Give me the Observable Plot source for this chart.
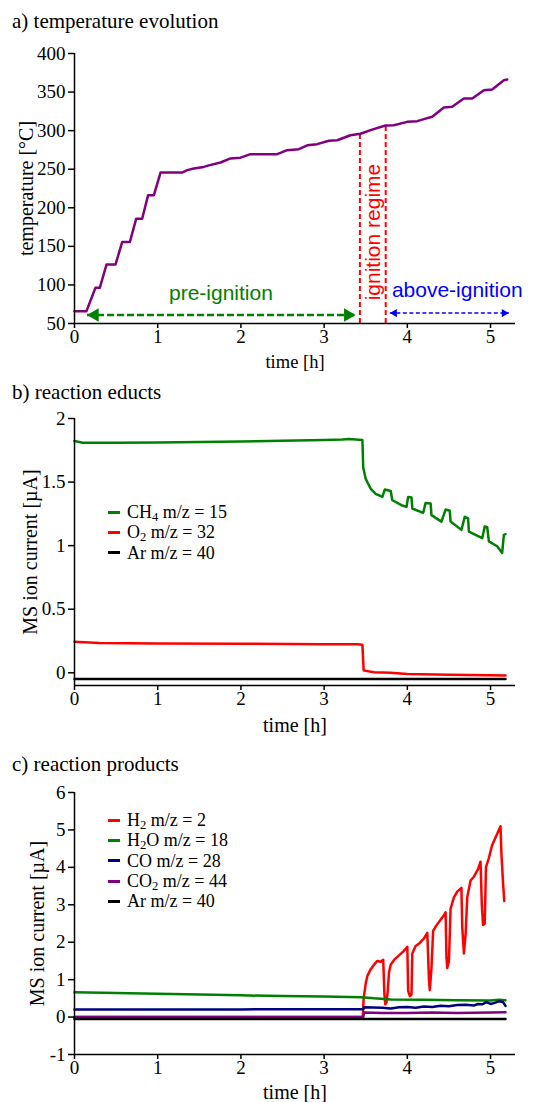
<!DOCTYPE html>
<html><head><meta charset="utf-8">
<script src="https://cdn.jsdelivr.net/npm/d3@7"></script>
<script src="https://cdn.jsdelivr.net/npm/@observablehq/plot@0.6"></script>
<style>
body{margin:0;background:#fff;}
#wrap{position:relative;width:534px;height:1102px;overflow:hidden;font-family:'Liberation Serif','Times New Roman',serif;color:#000;background:#fff;}
.title{position:absolute;left:12px;font-size:21px;line-height:21px;white-space:nowrap;}
.panel{position:absolute;left:0;}
.legend{position:absolute;left:108px;font-size:18px;}
.legend .row{display:flex;align-items:center;white-space:nowrap;height:20.3px;line-height:20.3px;}
.legend .sw{display:inline-block;width:12px;height:3px;margin-right:7px;}
sub{font-size:70%;vertical-align:-0.2em;line-height:0;}
</style></head><body><div id="wrap"></div>
<script>
// ---------- data ----------
const timeTicks = [0, 1, 2, 3, 4, 5];
const tempTicks = [50, 100, 150, 200, 250, 300, 350, 400];
const eductTicks = [0, 0.5, 1, 1.5, 2];
const productTicks = [-1, 0, 1, 2, 3, 4, 5, 6];

const panelTitles = ["a) temperature evolution", "b) reaction educts", "c) reaction products"];

const tempTime = [0, 0.144, 0.252, 0.304, 0.385, 0.493, 0.573, 0.665, 0.741, 0.813, 0.885, 0.954, 1.034, 1.294, 1.354, 1.434, 1.554, 1.615, 1.755, 1.875, 1.995, 2.115, 2.436, 2.556, 2.696, 2.797, 2.917, 3.057, 3.157, 3.317, 3.437, 3.558, 3.738, 3.838, 3.998, 4.119, 4.199, 4.299, 4.439, 4.539, 4.679, 4.78, 4.92, 5.02, 5.16, 5.2];
const tempValue = [66, 66, 96.3, 96.3, 126.5, 126.5, 155.5, 155.5, 185.7, 185.7, 216.4, 216.4, 245.7, 245.7, 248.8, 251, 253, 255, 258.7, 264, 265, 269.5, 269.5, 274.7, 276, 281, 282.5, 286.8, 287.6, 294, 296, 300.6, 306.7, 307, 311.4, 312.3, 314.9, 318, 330, 330.9, 341.7, 341.7, 352.5, 353.3, 365.4, 366.3];

const regimeBounds = [3.43, 3.74];
const regimeTop = [296, 306];
const regimeLabels = ["pre-ignition", "ignition regime", "above-ignition"];
const regimeLabelTime = [1.76, 3.585, 4.6];
const regimeLabelTemp = [89, 80, 93];
const preArrow = [0.15, 3.38];
const preArrowTemp = 61;
const aboveArrow = [3.79, 5.22];
const aboveArrowTemp = 63.5;

const ch4Time = [0, 0.1, 0.5, 1.0, 1.5, 2.0, 2.5, 3.0, 3.22, 3.3, 3.46, 3.47, 3.50, 3.56, 3.62, 3.70, 3.73, 3.80, 3.82, 3.93, 3.99, 4.01, 4.05, 4.06, 4.19, 4.22, 4.28, 4.29, 4.41, 4.46, 4.51, 4.52, 4.65, 4.69, 4.73, 4.74, 4.90, 4.93, 4.96, 4.98, 5.08, 5.14, 5.16, 5.18];
const ch4Value = [1.823, 1.81, 1.81, 1.812, 1.815, 1.82, 1.825, 1.83, 1.835, 1.838, 1.83, 1.615, 1.525, 1.447, 1.408, 1.383, 1.442, 1.43, 1.357, 1.318, 1.305, 1.383, 1.378, 1.292, 1.258, 1.336, 1.331, 1.24, 1.189, 1.284, 1.274, 1.189, 1.124, 1.227, 1.214, 1.111, 1.059, 1.15, 1.145, 1.033, 0.995, 0.943, 1.085, 1.09];
const o2Time = [0, 0.3, 1, 2, 3, 3.4, 3.46, 3.475, 3.5, 3.6, 3.8, 4.0, 4.5, 5.0, 5.18];
const o2Value = [0.245, 0.235, 0.23, 0.228, 0.225, 0.225, 0.22, 0.02, 0.015, 0.005, 0.0, -0.01, -0.015, -0.02, -0.022];
const arTime = [0, 5.18];
const arEductValue = [-0.048, -0.048];

const h2Time = [0, 3.465, 3.475, 3.5, 3.52, 3.56, 3.6, 3.64, 3.68, 3.71, 3.725, 3.735, 3.75, 3.765, 3.78, 3.8, 3.85, 3.9, 3.95, 3.99, 4.0, 4.01, 4.03, 4.05, 4.06, 4.1, 4.15, 4.2, 4.24, 4.26, 4.27, 4.29, 4.31, 4.35, 4.4, 4.44, 4.46, 4.47, 4.48, 4.5, 4.52, 4.56, 4.6, 4.65, 4.66, 4.68, 4.7, 4.72, 4.76, 4.8, 4.85, 4.88, 4.895, 4.91, 4.93, 4.945, 4.98, 5.02, 5.06, 5.1, 5.12, 5.13, 5.15, 5.165];
const h2Value = [0, 0, 0.5, 0.9, 1.1, 1.28, 1.4, 1.5, 1.48, 1.53, 0.6, 0.34, 0.4, 0.7, 1.2, 1.4, 1.55, 1.65, 1.75, 1.85, 1.88, 0.7, 0.56, 0.6, 1.7, 1.9, 1.98, 2.1, 2.25, 1.0, 0.72, 1.3, 2.3, 2.45, 2.6, 2.72, 2.8, 1.6, 1.31, 1.5, 2.9, 3.2, 3.35, 3.45, 2.4, 1.7, 2.2, 3.2, 3.65, 3.75, 3.95, 4.15, 3.0, 2.46, 2.5, 4.0, 4.25, 4.6, 4.8, 5.0, 5.1, 4.4, 3.6, 3.1];
const h2oTime = [0, 0.5, 1, 1.5, 2, 2.5, 3, 3.45, 3.6, 3.8, 4.2, 4.6, 5.0, 5.1, 5.18];
const h2oValue = [0.66, 0.64, 0.62, 0.6, 0.58, 0.56, 0.55, 0.53, 0.5, 0.47, 0.46, 0.45, 0.44, 0.46, 0.45];
const coTime = [0, 1, 2, 3, 3.47, 3.48, 3.7, 3.8, 3.9, 4.0, 4.1, 4.2, 4.3, 4.4, 4.5, 4.6, 4.7, 4.8, 4.85, 4.9, 4.95, 5.0, 5.05, 5.1, 5.15, 5.18];
const coValue = [0.2, 0.2, 0.205, 0.21, 0.21, 0.26, 0.25, 0.23, 0.26, 0.27, 0.25, 0.28, 0.27, 0.3, 0.29, 0.32, 0.33, 0.31, 0.35, 0.34, 0.4, 0.35, 0.38, 0.42, 0.4, 0.3];
const co2Time = [0, 3.47, 3.48, 3.7, 4.0, 4.3, 4.6, 5.0, 5.18];
const co2Value = [0, 0, 0.12, 0.11, 0.11, 0.12, 0.11, 0.12, 0.13];
const arProductValue = [-0.05, -0.05];

const eductLabels = ["CH<sub>4</sub> m/z = 15", "O<sub>2</sub> m/z = 32", "Ar m/z = 40"];
const eductColors = ["#008000", "#ff0000", "#000000"];
const productLabels = ["H<sub>2</sub> m/z = 2", "H<sub>2</sub>O m/z = 18", "CO m/z = 28", "CO<sub>2</sub> m/z = 44", "Ar m/z = 40"];
const productColors = ["#ff0000", "#008000", "#000080", "#800080", "#000000"];

// ---------- helpers ----------
const serif = "Liberation Serif";
const sans = "Liberation Sans";
const rows = (ts, vs) => ts.map((t, i) => ({t, v: vs[i]}));
const wrap = document.getElementById("wrap");

function addTitle(text, top) {
  const d = document.createElement("div");
  d.className = "title"; d.style.top = top + "px"; d.textContent = text;
  wrap.appendChild(d);
}
function addLegend(labels, colors, top) {
  const d = document.createElement("div");
  d.className = "legend"; d.style.top = top + "px";
  labels.forEach((l, i) => {
    const r = document.createElement("div"); r.className = "row";
    r.innerHTML = `<span class="sw" style="background:${colors[i]}"></span><span>${l}</span>`;
    d.appendChild(r);
  });
  wrap.appendChild(d);
}
function panel({top, height, marginTop, marginBottom, yDomain, yTicks, tickFont, marks, yLabel, yLabelDx, xLabelDy, xLabelSize}) {
  const svg = Plot.plot({
    width: 534, height, marginLeft: 74, marginRight: 19, marginTop, marginBottom,
    x: {domain: [0, 5.3]},
    y: {domain: yDomain},
    style: {fontSize: tickFont + "px", color: "black", background: "transparent", overflow: "visible"},
    marks: [
      ...marks,
      Plot.ruleX([0], {stroke: "black", strokeWidth: 1.5}),
      Plot.ruleY([yDomain[0]], {stroke: "black", strokeWidth: 1.5}),
      Plot.axisX({ticks: timeTicks, tickSize: 5, tickFormat: () => "", label: null, strokeWidth: 1.5}),
      Plot.axisY({ticks: yTicks, tickSize: 6, tickFormat: () => "", label: null, strokeWidth: 1.5}),
      Plot.text(timeTicks, {x: d => d, text: d => String(d), frameAnchor: "bottom", lineAnchor: "top", textAnchor: "middle", dy: 6, fontSize: tickFont, fontFamily: serif, fill: "black"}),
      Plot.text(yTicks, {y: d => d, text: d => String(d), frameAnchor: "left", lineAnchor: "middle", textAnchor: "end", dx: -9, fontSize: tickFont, fontFamily: serif, fill: "black"}),
      Plot.text(["time [h]"], {text: d => d, frameAnchor: "bottom", lineAnchor: "middle", textAnchor: "middle", dy: xLabelDy, fontSize: xLabelSize, fontFamily: serif}),
      Plot.text([yLabel], {text: d => d, frameAnchor: "left", textAnchor: "middle", lineAnchor: "middle", dx: yLabelDx, rotate: -90, fontSize: 20, fontFamily: serif})
    ]
  });
  svg.classList.add("panel");
  svg.style.position = "absolute";
  svg.style.top = top + "px";
  svg.style.left = "0px";
  wrap.appendChild(svg);
}

// ---------- panel a ----------
const regimeRows = regimeBounds.map((t, i) => ({t, top: regimeTop[i]}));
panel({
  top: 40, height: 335, marginTop: 13, marginBottom: 52,
  yDomain: [50, 400], yTicks: tempTicks, tickFont: 19,
  yLabel: "temperature [°C]", yLabelDx: -48, xLabelDy: 39, xLabelSize: 18.5,
  marks: [
    Plot.ruleX(regimeRows, {x: "t", y1: 50, y2: "top", stroke: "#ff0000", strokeWidth: 2, strokeDasharray: "5,3"}),
    Plot.line(rows(tempTime, tempValue), {x: "t", y: "v", stroke: "#800080", strokeWidth: 2.5}),
    Plot.link([{x1: preArrow[0], x2: preArrow[1], y: preArrowTemp}], {x1: "x1", x2: "x2", y1: "y", y2: "y", stroke: "#008000", strokeWidth: 2.5, strokeDasharray: "7,3"}),
    Plot.dot([{x: preArrow[0], y: preArrowTemp}], {x: "x", y: "y", symbol: "triangle", r: 5, rotate: -90, dx: 7.8, fill: "#008000", stroke: "none"}),
    Plot.dot([{x: preArrow[1], y: preArrowTemp}], {x: "x", y: "y", symbol: "triangle", r: 5, rotate: 90, dx: -7.8, fill: "#008000", stroke: "none"}),
    Plot.link([{x1: aboveArrow[0], x2: aboveArrow[1], y: aboveArrowTemp}], {x1: "x1", x2: "x2", y1: "y", y2: "y", stroke: "#0000ff", strokeWidth: 1.5, strokeDasharray: "4,2.5"}),
    Plot.dot([{x: aboveArrow[0], y: aboveArrowTemp}], {x: "x", y: "y", symbol: "triangle", r: 3, rotate: -90, dx: 4.7, fill: "#0000ff", stroke: "none"}),
    Plot.dot([{x: aboveArrow[1], y: aboveArrowTemp}], {x: "x", y: "y", symbol: "triangle", r: 3, rotate: 90, dx: -4.7, fill: "#0000ff", stroke: "none"}),
    Plot.text([0], {x: regimeLabelTime[0], y: regimeLabelTemp[0], text: () => regimeLabels[0], fill: "#008000", fontSize: 21, fontFamily: sans}),
    Plot.text([0], {x: regimeLabelTime[1], y: regimeLabelTemp[1], text: () => regimeLabels[1], fill: "#ff0000", fontSize: 21, fontFamily: sans, rotate: -90, textAnchor: "start"}),
    Plot.text([0], {x: regimeLabelTime[2], y: regimeLabelTemp[2], text: () => regimeLabels[2], fill: "#0000ff", fontSize: 21, fontFamily: sans})
  ]
});

// ---------- panel b ----------
panel({
  top: 400, height: 340, marginTop: 18, marginBottom: 55,
  yDomain: [-0.1, 2], yTicks: eductTicks, tickFont: 19,
  yLabel: "MS ion current [µA]", yLabelDx: -44, xLabelDy: 40, xLabelSize: 20,
  marks: [
    Plot.line(rows(ch4Time, ch4Value), {x: "t", y: "v", stroke: eductColors[0], strokeWidth: 2.5}),
    Plot.line(rows(o2Time, o2Value), {x: "t", y: "v", stroke: eductColors[1], strokeWidth: 2.5}),
    Plot.line(rows(arTime, arEductValue), {x: "t", y: "v", stroke: eductColors[2], strokeWidth: 2.5})
  ]
});
addLegend(eductLabels, eductColors, 502);

// ---------- panel c ----------
panel({
  top: 775, height: 327, marginTop: 17, marginBottom: 48,
  yDomain: [-1, 6], yTicks: productTicks, tickFont: 19,
  yLabel: "MS ion current [µA]", yLabelDx: -37, xLabelDy: 38, xLabelSize: 20,
  marks: [
    Plot.line(rows(h2Time, h2Value), {x: "t", y: "v", stroke: productColors[0], strokeWidth: 2.5}),
    Plot.line(rows(h2oTime, h2oValue), {x: "t", y: "v", stroke: productColors[1], strokeWidth: 2.5}),
    Plot.line(rows(coTime, coValue), {x: "t", y: "v", stroke: productColors[2], strokeWidth: 2.5}),
    Plot.line(rows(co2Time, co2Value), {x: "t", y: "v", stroke: productColors[3], strokeWidth: 2.5}),
    Plot.line(rows(arTime, arProductValue), {x: "t", y: "v", stroke: productColors[4], strokeWidth: 2.5})
  ]
});
addLegend(productLabels, productColors, 810);

addTitle(panelTitles[0], 11);
addTitle(panelTitles[1], 382);
addTitle(panelTitles[2], 754);
</script></body></html>
